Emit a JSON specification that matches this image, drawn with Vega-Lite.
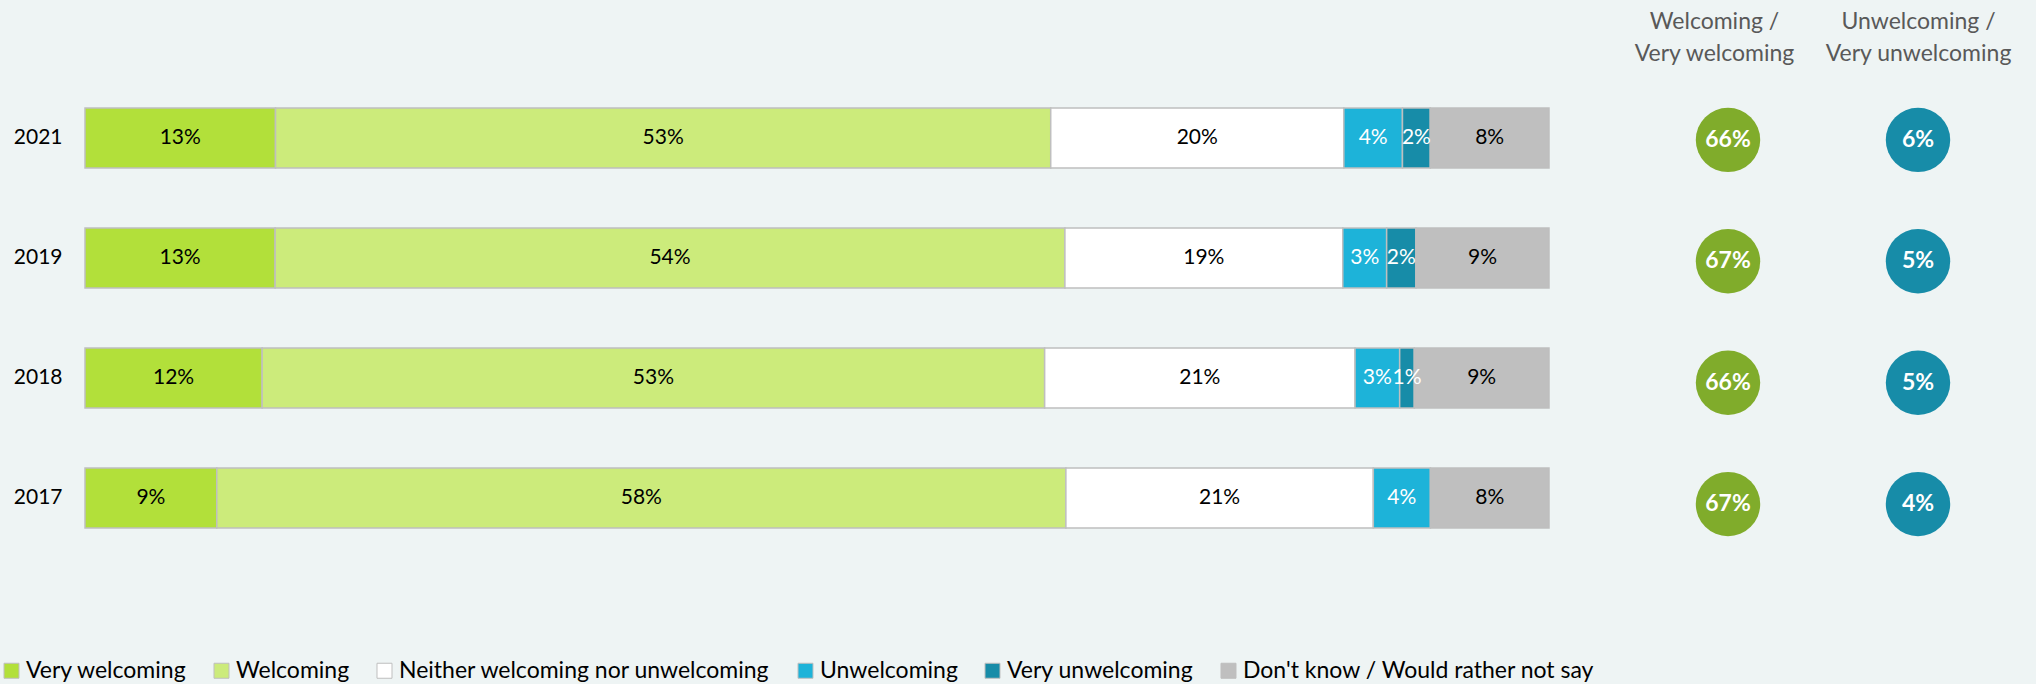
{
  "$schema": "https://vega.github.io/schema/vega-lite/v6.json",
  "background": "#EEF4F4",
  "padding": {"left": 0, "top": 10, "right": 30, "bottom": 8},
  "autosize": {"type": "pad"},
  "bounds": "flush",
  "spacing": 84,
  "config": {"font": "Lato", "view": {"stroke": null}},
  "datasets": {
    "dist": [
      {"year": "2021", "category": "Very welcoming", "order": 1, "value": 13.0, "label": "13%"},
      {"year": "2021", "category": "Welcoming", "order": 2, "value": 52.9, "label": "53%"},
      {"year": "2021", "category": "Neither welcoming nor unwelcoming", "order": 3, "value": 20.0, "label": "20%"},
      {"year": "2021", "category": "Unwelcoming", "order": 4, "value": 4.0, "label": "4%"},
      {"year": "2021", "category": "Very unwelcoming", "order": 5, "value": 1.9, "label": "2%"},
      {"year": "2021", "category": "Don't  know / Would rather not say", "order": 6, "value": 8.1, "label": "8%"},
      {"year": "2019", "category": "Very welcoming", "order": 1, "value": 13.0, "label": "13%"},
      {"year": "2019", "category": "Welcoming", "order": 2, "value": 54.0, "label": "54%"},
      {"year": "2019", "category": "Neither welcoming nor unwelcoming", "order": 3, "value": 19.0, "label": "19%"},
      {"year": "2019", "category": "Unwelcoming", "order": 4, "value": 3.0, "label": "3%"},
      {"year": "2019", "category": "Very unwelcoming", "order": 5, "value": 2.0, "label": "2%"},
      {"year": "2019", "category": "Don't  know / Would rather not say", "order": 6, "value": 9.1, "label": "9%"},
      {"year": "2018", "category": "Very welcoming", "order": 1, "value": 12.1, "label": "12%"},
      {"year": "2018", "category": "Welcoming", "order": 2, "value": 53.45, "label": "53%"},
      {"year": "2018", "category": "Neither welcoming nor unwelcoming", "order": 3, "value": 21.2, "label": "21%"},
      {"year": "2018", "category": "Unwelcoming", "order": 4, "value": 3.05, "label": "3%"},
      {"year": "2018", "category": "Very unwelcoming", "order": 5, "value": 1.0, "label": "1%"},
      {"year": "2018", "category": "Don't  know / Would rather not say", "order": 6, "value": 9.2, "label": "9%"},
      {"year": "2017", "category": "Very welcoming", "order": 1, "value": 9.0, "label": "9%"},
      {"year": "2017", "category": "Welcoming", "order": 2, "value": 58.0, "label": "58%"},
      {"year": "2017", "category": "Neither welcoming nor unwelcoming", "order": 3, "value": 21.0, "label": "21%"},
      {"year": "2017", "category": "Unwelcoming", "order": 4, "value": 3.9, "label": "4%"},
      {"year": "2017", "category": "Don't  know / Would rather not say", "order": 6, "value": 8.1, "label": "8%"}
    ],
    "summary": [
      {"year": "2021", "measure": "Welcoming / Very welcoming", "label": "66%"},
      {"year": "2021", "measure": "Unwelcoming / Very unwelcoming", "label": "6%"},
      {"year": "2019", "measure": "Welcoming / Very welcoming", "label": "67%"},
      {"year": "2019", "measure": "Unwelcoming / Very unwelcoming", "label": "5%"},
      {"year": "2018", "measure": "Welcoming / Very welcoming", "label": "66%"},
      {"year": "2018", "measure": "Unwelcoming / Very unwelcoming", "label": "5%"},
      {"year": "2017", "measure": "Welcoming / Very welcoming", "label": "67%"},
      {"year": "2017", "measure": "Unwelcoming / Very unwelcoming", "label": "4%"}
    ]
  },
  "hconcat": [
    {
      "width": 1464,
      "height": 480,
      "data": {"name": "dist"},
      "transform": [
        {"stack": "value", "groupby": ["year"], "sort": [{"field": "order", "order": "ascending"}], "offset": "normalize", "as": ["v0", "v1"]},
        {"calculate": "(datum.v0 + datum.v1) / 2", "as": "mid"}
      ],
      "encoding": {
        "y": {
          "field": "year", "type": "nominal", "sort": ["2021", "2019", "2018", "2017"],
          "scale": {"paddingInner": 0.5, "paddingOuter": 0.25},
          "axis": {"title": null, "domain": false, "ticks": false, "labelPadding": 23, "labelFontSize": 21, "labelColor": "#000000", "labelFont": "Lato"}
        }
      },
      "layer": [
        {
          "mark": {"type": "bar", "stroke": "#BFBFBF", "strokeWidth": 1.5},
          "encoding": {
            "x": {"field": "v0", "type": "quantitative", "scale": {"domain": [0, 1], "nice": false, "zero": false}, "axis": null},
            "x2": {"field": "v1"},
            "fill": {
              "field": "category", "type": "nominal",
              "scale": {
                "domain": ["Very welcoming", "Welcoming", "Neither welcoming nor unwelcoming", "Unwelcoming", "Very unwelcoming", "Don't  know / Would rather not say"],
                "range": ["#B2E03A", "#CCEB7B", "#FFFFFF", "#1DB3D9", "#178CA8", "#BFBFBF"]
              },
              "legend": {
                "title": null, "orient": "none", "legendX": -85, "legendY": 581, "direction": "horizontal",
                "symbolType": "square", "symbolSize": 225, "symbolStrokeColor": "#BFBFBF", "symbolStrokeWidth": 1,
                "labelFontSize": 23, "labelFont": "Lato", "labelColor": "#000000", "columnPadding": 23, "labelOffset": 3,
                "symbolOpacity": 1, "labelLimit": 0
              }
            }
          }
        },
        {
          "mark": {"type": "text", "fontSize": 21, "font": "Lato", "baseline": "middle", "align": "center"},
          "encoding": {
            "x": {"field": "mid", "type": "quantitative"},
            "text": {"field": "label"},
            "color": {
              "condition": {"test": "datum.category == 'Unwelcoming' || datum.category == 'Very unwelcoming'", "value": "#FFFFFF"},
              "value": "#000000"
            }
          }
        }
      ]
    },
    {
      "width": 380,
      "height": 488,
      "data": {"name": "summary"},
      "encoding": {
        "y": {"field": "year", "type": "ordinal", "sort": ["2021", "2019", "2018", "2017"], "scale": {"type": "point", "padding": 0.51}, "axis": null},
        "x": {
          "field": "measure", "type": "nominal", "sort": ["Welcoming / Very welcoming", "Unwelcoming / Very unwelcoming"],
          "scale": {"type": "point", "padding": 0.5},
          "axis": {
            "orient": "top", "title": null, "domain": false, "ticks": false, "labelAngle": 0,
            "labelExpr": "[slice(datum.value, 0, indexof(datum.value, '/') + 1), slice(datum.value, indexof(datum.value, '/') + 2)]",
            "labelFontSize": 23, "labelFont": "Lato", "labelColor": "#595959", "labelLineHeight": 32, "labelPadding": 45, "labelLimit": 0,
            "labelOffset": {"condition": {"test": "datum.value == 'Welcoming / Very welcoming'", "value": -14}, "value": 0}
          }
        }
      },
      "layer": [
        {
          "mark": {"type": "point", "filled": true, "opacity": 1, "size": 4150, "shape": "circle"},
          "encoding": {
            "color": {"field": "measure", "type": "nominal", "scale": {"domain": ["Welcoming / Very welcoming", "Unwelcoming / Very unwelcoming"], "range": ["#80AC2B", "#178CA8"]}, "legend": null}
          }
        },
        {
          "mark": {"type": "text", "color": "#FFFFFF", "fontSize": 23, "fontWeight": "bold", "font": "Lato", "baseline": "middle", "align": "center"},
          "encoding": {"text": {"field": "label"}}
        }
      ]
    }
  ]
}
